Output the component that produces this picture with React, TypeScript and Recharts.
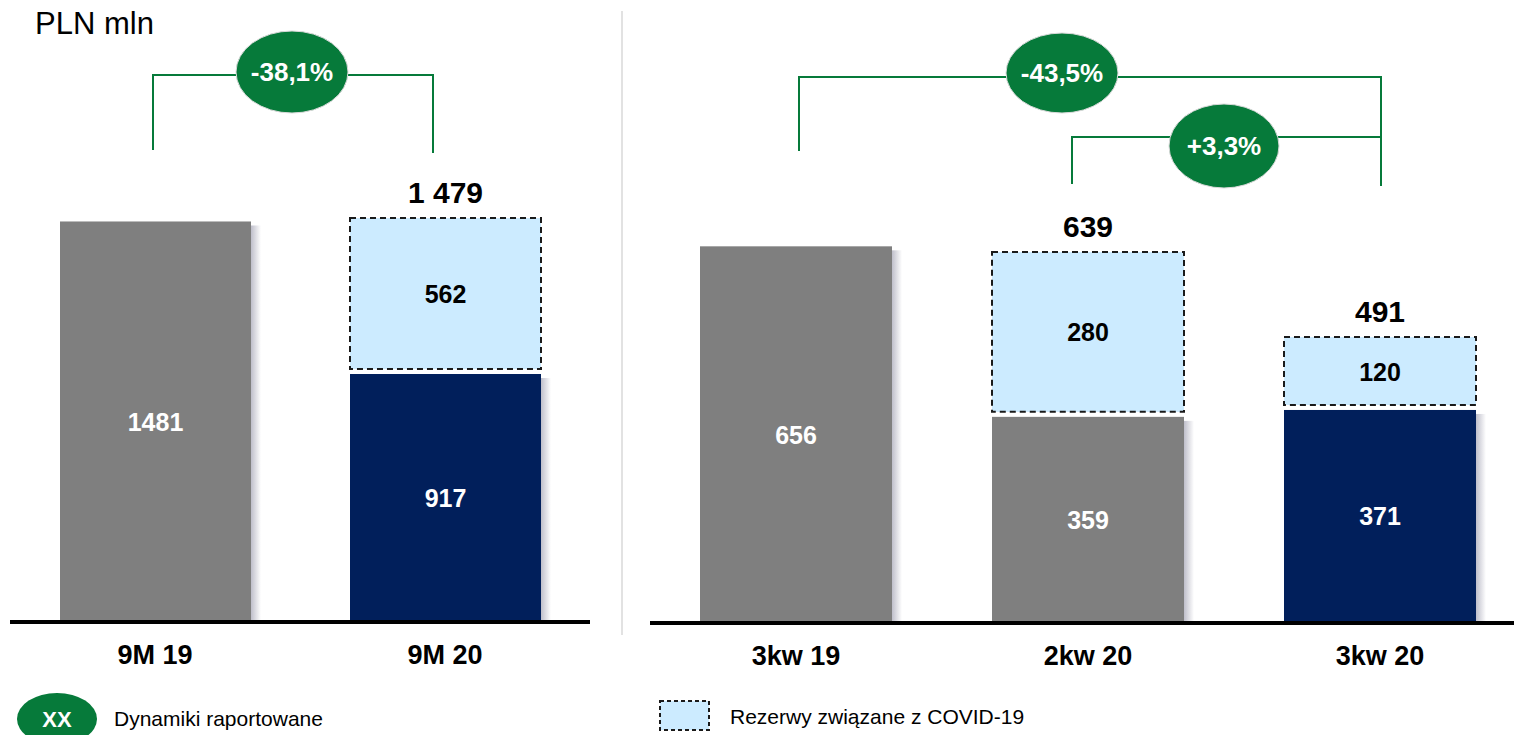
import React from 'react';
import { BarChart, Bar, XAxis, YAxis, Cell, LabelList } from 'recharts';

const leftCategories = ['9M 19', '9M 20'];
const leftBase = [1481, 917];
const leftCovid = [0, 562];
const leftTotals = [0, 1479];
const leftColors = ['#7F7F7F', '#011F5B'];

const rightCategories = ['3kw 19', '2kw 20', '3kw 20'];
const rightBase = [656, 359, 371];
const rightCovid = [0, 280, 120];
const rightTotals = [0, 639, 491];
const rightColors = ['#7F7F7F', '#7F7F7F', '#011F5B'];

const changeLabels = ['-38,1%', '-43,5%', '+3,3%'];
const unitLabel = 'PLN mln';
const legendDynamics = 'Dynamiki raportowane';
const legendCovid = 'Rezerwy związane z COVID-19';

const FONT = '"Liberation Sans", Arial, sans-serif';
const GREEN = '#067A3A';
const COVID_FILL = '#CCEBFF';

const leftData = leftCategories.map((name, i) => ({
  name,
  base: leftBase[i],
  covid: leftCovid[i],
  total: leftTotals[i],
}));
const rightData = rightCategories.map((name, i) => ({
  name,
  base: rightBase[i],
  covid: rightCovid[i],
  total: rightTotals[i],
}));

const fmtTotal = (v: number) => String(v).replace(/\B(?=(\d{3})+(?!\d))/g, ' ');

const makeBaseShape = (gid: string) => (props: any) => {
  const { x, y, width, height, fill } = props;
  if (!height || height <= 0) return null;
  return (
    <g>
      <rect x={x + width} y={y + 4} width={10} height={height - 4} fill={`url(#${gid})`} />
      <rect x={x} y={y} width={width} height={height} fill={fill} />
    </g>
  );
};

const covidShape = (props: any) => {
  const { x, y, width, height } = props;
  if (!height || height <= 0) return null;
  return (
    <rect
      x={x}
      y={y - 4}
      width={width}
      height={height - 1}
      fill={COVID_FILL}
      stroke="#1a1a1a"
      strokeWidth={2}
      strokeDasharray="6 4"
    />
  );
};

const Tick = (props: any) => {
  const { x, y, payload } = props;
  return (
    <text x={x} y={y + 42} textAnchor="middle" fontFamily={FONT} fontWeight="bold" fontSize={27} fill="#000">
      {payload.value}
    </text>
  );
};

const baseLabel = (props: any) => {
  const { x, y, width, height, value } = props;
  if (!value) return null;
  return (
    <text x={x + width / 2} y={y + height / 2 + 9} textAnchor="middle" fontFamily={FONT} fontWeight="bold" fontSize={25} fill="#fff">
      {value}
    </text>
  );
};

const covidLabel = (props: any) => {
  const { x, y, width, height, value } = props;
  if (!value) return null;
  return (
    <text x={x + width / 2} y={y + height / 2 + 5} textAnchor="middle" fontFamily={FONT} fontWeight="bold" fontSize={25} fill="#000">
      {value}
    </text>
  );
};

const totalLabel = (props: any) => {
  const { x, y, width, value } = props;
  if (!value) return null;
  return (
    <text x={x + width / 2} y={y - 19} textAnchor="middle" fontFamily={FONT} fontWeight="bold" fontSize={30} fill="#000">
      {fmtTotal(value)}
    </text>
  );
};

const Defs = ({ id }: { id: string }) => (
  <defs>
    <linearGradient id={id} x1="0" y1="0" x2="1" y2="0">
      <stop offset="0%" stopColor="#8a8aa0" stopOpacity={0.55} />
      <stop offset="100%" stopColor="#8a8aa0" stopOpacity={0} />
    </linearGradient>
  </defs>
);

function Panel({ data, colors, width, margin, axisHeight, domainMax, gid, barSize }: any) {
  return (
    <BarChart width={width} height={735} data={data} margin={margin} barCategoryGap={0}>
      <Defs id={gid} />
      <YAxis hide domain={[0, domainMax]} />
      <XAxis
        dataKey="name"
        height={axisHeight}
        axisLine={{ stroke: '#000', strokeWidth: 4 }}
        tickLine={false}
        tickSize={0}
        tickMargin={0}
        tick={<Tick />}
        interval={0}
      />
      <Bar dataKey="base" stackId="s" barSize={barSize} isAnimationActive={false} shape={makeBaseShape(gid)}>
        {data.map((_: any, i: number) => (
          <Cell key={i} fill={colors[i]} />
        ))}
        <LabelList dataKey="base" content={baseLabel} />
      </Bar>
      <Bar dataKey="covid" stackId="s" barSize={barSize} isAnimationActive={false} shape={covidShape}>
        <LabelList dataKey="covid" content={covidLabel} />
        <LabelList dataKey="total" content={totalLabel} />
      </Bar>
    </BarChart>
  );
}

function Overlay() {
  const txt = { fontFamily: FONT, fontWeight: 'bold' as const, fontSize: 26, fill: '#fff', textAnchor: 'middle' as const };
  const line = { stroke: GREEN, strokeWidth: 2, fill: 'none' };
  return (
    <svg width={1514} height={735} style={{ position: 'absolute', left: 0, top: 0, pointerEvents: 'none' }}>
      <text x={35} y={34} fontFamily={FONT} fontSize={31} fill="#000">{unitLabel}</text>
      <line x1={622} y1={11} x2={622} y2={635} stroke="#E2E2E2" strokeWidth={2} />

      <polyline points="153,150 153,75 433,75 433,153" {...line} />
      <ellipse cx={292} cy={72} rx={56} ry={41} fill={GREEN} stroke="#d9d9d9" strokeWidth={1} />
      <text x={292} y={81} {...txt}>{changeLabels[0]}</text>

      <polyline points="799,151 799,77 1381,77 1381,186" {...line} />
      <ellipse cx={1062} cy={73} rx={56} ry={40} fill={GREEN} stroke="#d9d9d9" strokeWidth={1} />
      <text x={1062} y={82} {...txt}>{changeLabels[1]}</text>

      <polyline points="1072,184 1072,137 1381,137" {...line} />
      <ellipse cx={1224} cy={146} rx={55} ry={42} fill={GREEN} stroke="#d9d9d9" strokeWidth={1} />
      <text x={1224} y={155} {...txt}>{changeLabels[2]}</text>

      <ellipse cx={57} cy={719} rx={40} ry={26} fill={GREEN} />
      <text x={57} y={727} fontFamily={FONT} fontWeight="bold" fontSize={22} fill="#fff" textAnchor="middle">XX</text>
      <text x={114} y={726} fontFamily={FONT} fontSize={21} fill="#000">{legendDynamics}</text>

      <rect x={660} y={701} width={49} height={29} fill={COVID_FILL} stroke="#1a1a1a" strokeWidth={2} strokeDasharray="4 3" />
      <text x={730} y={724} fontFamily={FONT} fontSize={21} fill="#000">{legendCovid}</text>
    </svg>
  );
}

export default function App() {
  return (
    <div style={{ position: 'absolute', left: 0, top: 0, width: 1514, height: 735, overflow: 'hidden', background: '#fff', fontFamily: FONT }}>
      <div style={{ position: 'absolute', left: 0, top: 0 }}>
        <Panel
          data={leftData}
          colors={leftColors}
          width={600}
          margin={{ top: 0, right: 10, left: 10, bottom: 0 }}
          axisHeight={113}
          domainMax={2300}
          gid="shadowL"
          barSize={191}
        />
      </div>
      <div style={{ position: 'absolute', left: 640, top: 0 }}>
        <Panel
          data={rightData}
          colors={rightColors}
          width={900}
          margin={{ top: 0, right: 14, left: 10, bottom: 0 }}
          axisHeight={112}
          domainMax={1085}
          gid="shadowR"
          barSize={192}
        />
      </div>
      <Overlay />
    </div>
  );
}
